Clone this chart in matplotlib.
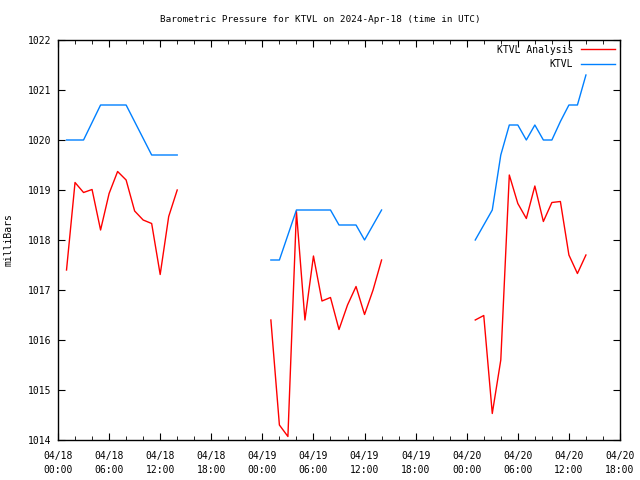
import matplotlib
matplotlib.use("Agg")
import matplotlib.pyplot as plt
import numpy as np

# hours since 2024-04-18 00:00 UTC
ana_hours = [1, 2, 3, 4, 5, 6, 7, 8, 9, 10, 11, 12, 13, 14,
             25, 26, 27, 28, 29, 30, 31, 32, 33, 34, 35, 36, 37, 38,
             49, 50, 51, 52, 53, 54, 55, 56, 57, 58, 59, 60, 61, 62]
ana_mb = [1017.4, 1019.15, 1018.95, 1019.01, 1018.2, 1018.93, 1019.37, 1019.2,
          1018.58, 1018.4, 1018.33, 1017.31, 1018.47, 1019.0,
          1016.4, 1014.3, 1014.07, 1018.57, 1016.4, 1017.68, 1016.78, 1016.85,
          1016.21, 1016.7, 1017.07, 1016.51, 1017.0, 1017.6,
          1016.4, 1016.49, 1014.53, 1015.6, 1019.3, 1018.73, 1018.43, 1019.08,
          1018.37, 1018.75, 1018.77, 1017.7, 1017.33, 1017.7]

obs_hours = [1, 3, 5, 8, 11, 14,
             25, 26, 28, 32, 33, 35, 36, 38,
             49, 51, 52, 53, 54, 55, 56, 57, 58, 59, 60, 61, 62]
obs_mb = [1020.0, 1020.0, 1020.7, 1020.7, 1019.7, 1019.7,
          1017.6, 1017.6, 1018.6, 1018.6, 1018.3, 1018.3, 1018.0, 1018.6,
          1018.0, 1018.6, 1019.7, 1020.3, 1020.3, 1020.0, 1020.3, 1020.0,
          1020.0, 1020.37, 1020.7, 1020.7, 1021.3]

tick_hours = list(range(0, 67, 6))
tick_labels = ["04/18\n00:00", "04/18\n06:00", "04/18\n12:00", "04/18\n18:00",
               "04/19\n00:00", "04/19\n06:00", "04/19\n12:00", "04/19\n18:00",
               "04/20\n00:00", "04/20\n06:00", "04/20\n12:00", "04/20\n18:00"]


def with_gaps(h, v):
    # break the line where there is a gap of more than 5 hours
    xs, ys = [], []
    for i in range(len(h)):
        if i > 0 and h[i] - h[i - 1] > 5:
            xs.append(np.nan)
            ys.append(np.nan)
        xs.append(h[i])
        ys.append(v[i])
    return xs, ys


plt.rcParams['font.family'] = 'DejaVu Sans Mono'
plt.rcParams['font.size'] = 7

fig = plt.figure(figsize=(6.4, 4.8), dpi=100)
ax = fig.add_axes([58 / 640, 40 / 480, 562 / 640, 400 / 480])

x, y = with_gaps(ana_hours, ana_mb)
ax.plot(x, y, color='#ff0000', lw=1.0, label='KTVL Analysis')
x, y = with_gaps(obs_hours, obs_mb)
ax.plot(x, y, color='#0080ff', lw=1.0, label='KTVL')

ax.set_xlim(0, 66)
ax.set_ylim(1014, 1022)
ax.set_xticks(tick_hours)
ax.set_xticklabels(tick_labels, linespacing=1.5)
ax.set_xticks(range(0, 67, 2), minor=True)
ax.set_yticks(range(1014, 1023))
ax.tick_params(which='both', direction='in', top=True, right=True)
ax.tick_params(axis='x', pad=8)
ax.tick_params(axis='y', pad=5)
ax.tick_params(which='major', length=5)
ax.tick_params(which='minor', length=3)
for s in ax.spines.values():
    s.set_linewidth(1.0)

ax.set_ylabel('milliBars')
ax.yaxis.set_label_coords(-0.08, 0.5)
fig.text(0.5, 1 - 19 / 480, 'Barometric Pressure for KTVL on 2024-Apr-18 (time in UTC)',
         ha='center', va='center', fontsize=6.7)

ax.legend(loc='upper right', frameon=False, markerfirst=False, handlelength=3.5,
          borderaxespad=0.3, labelspacing=0.45, handletextpad=0.8,
          borderpad=0.2)

fig.savefig('out.png', dpi=100)
